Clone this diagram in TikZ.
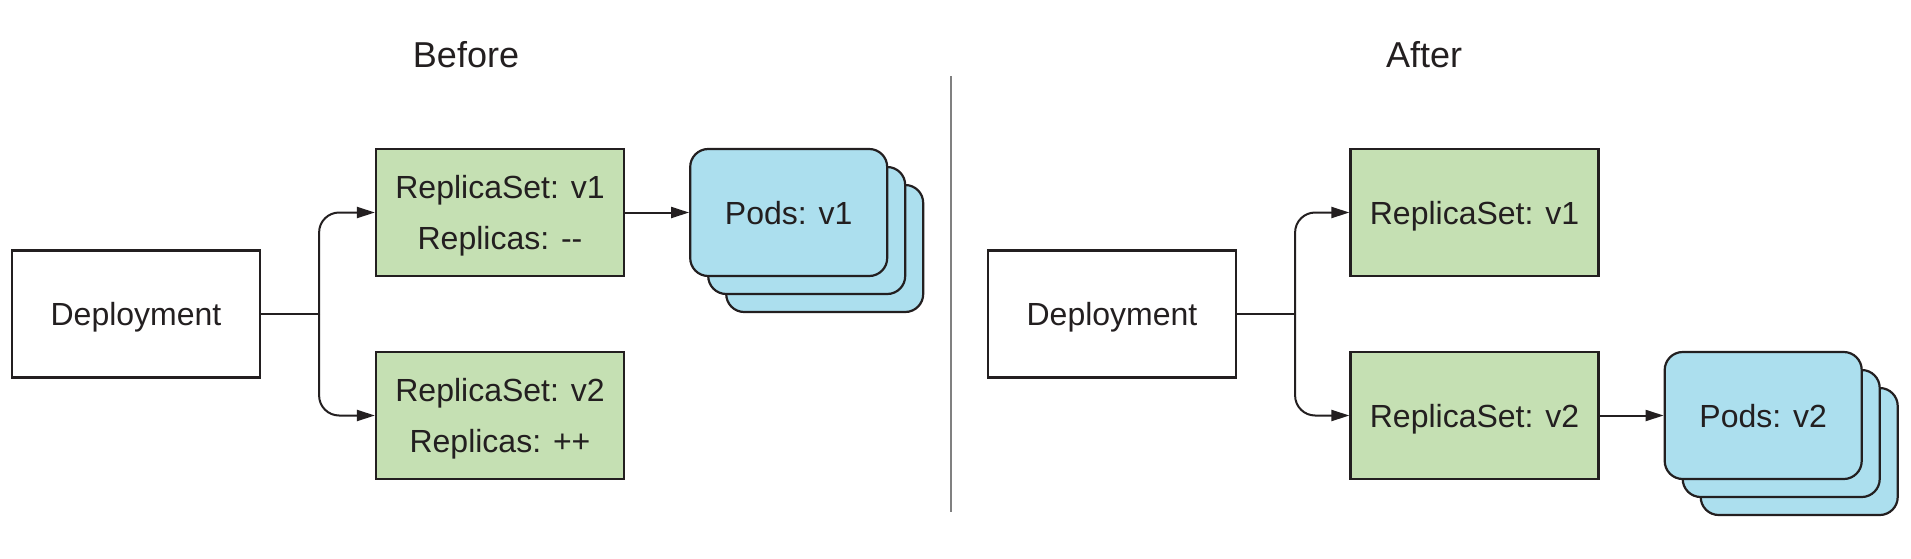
\documentclass[tikz,border=0pt]{standalone}
\usepackage{fontspec}
\setmainfont{Liberation Sans}
\definecolor{VertReplicaSet}{HTML}{C5E0B3}
\definecolor{BleuPod}{HTML}{ACDFEE}
\definecolor{NoirTexte}{HTML}{231F20}
\definecolor{GrisSeparation}{HTML}{808080}
\usepackage{tikz}
\usetikzlibrary{arrows.meta}
\usetikzlibrary{positioning}
\usetikzlibrary{shadows}
\begin{document}
\begin{tikzpicture}
	[x=0.5pt, y=-0.5pt,
	every node/.style = {align=center, text=NoirTexte, text depth=0pt,
		font=\fontsize{16}{25.5}\selectfont},
	deploybox/.style = {shape=rectangle, draw=NoirTexte, line width=1.1pt, fill=white,
		minimum width=124pt, minimum height=63.5pt, inner sep=0pt},
	replicabox/.style = {deploybox, fill=VertReplicaSet},
	podbox/.style = {deploybox, fill=BleuPod, rounded corners=9pt, minimum width=98.5pt,
		double copy shadow={shadow xshift=9pt, shadow yshift=-9pt}},
	titre/.style = {font=\fontsize{18}{22}\selectfont, anchor=base},
	trunk/.style = {draw=NoirTexte, line width=1pt},
	link/.style = {trunk, rounded corners=10pt, -{Triangle[length=9pt,width=5.5pt]}}]
	\useasboundingbox (0,0) rectangle (1911,558);
	% before
	\node[titre] (before) at (466,67) {Before};
	\node[deploybox] (depA) at (136,314) {Deployment};
	\node[replicabox] (rsA) at (500,212.5) {ReplicaSet: v1\\Replicas: -\kern0pt-};
	\node[replicabox] (rsB) at (500,415.5) {ReplicaSet: v2\\Replicas: ++};
	\node[podbox, right=32pt of rsA] (podsA) {Pods: v1};
	\coordinate[right=29pt of depA.east] (jA);
	\draw[trunk] (depA.east) -- (jA);
	\draw[link] (jA) |- (rsA.west);
	\draw[link] (jA) |- (rsB.west);
	\draw[link] (rsA.east) -- (podsA.west);
	% separation
	\coordinate (sepTop) at (951,76);
	\coordinate (sepBot) at (951,512);
	\draw[GrisSeparation, line width=1.2pt] (sepTop) -- (sepBot);
	% after
	\node[titre] (after) at (1424,67) {After};
	\node[deploybox] (depB) at (1112,314) {Deployment};
	\node[replicabox] (rsC) at (1474.5,212.5) {ReplicaSet: v1};
	\node[replicabox] (rsD) at (1474.5,415.5) {ReplicaSet: v2};
	\node[podbox, right=32pt of rsD] (podsB) {Pods: v2};
	\coordinate[right=29pt of depB.east] (jB);
	\draw[trunk] (depB.east) -- (jB);
	\draw[link] (jB) |- (rsC.west);
	\draw[link] (jB) |- (rsD.west);
	\draw[link] (rsD.east) -- (podsB.west);
\end{tikzpicture}
\end{document}
